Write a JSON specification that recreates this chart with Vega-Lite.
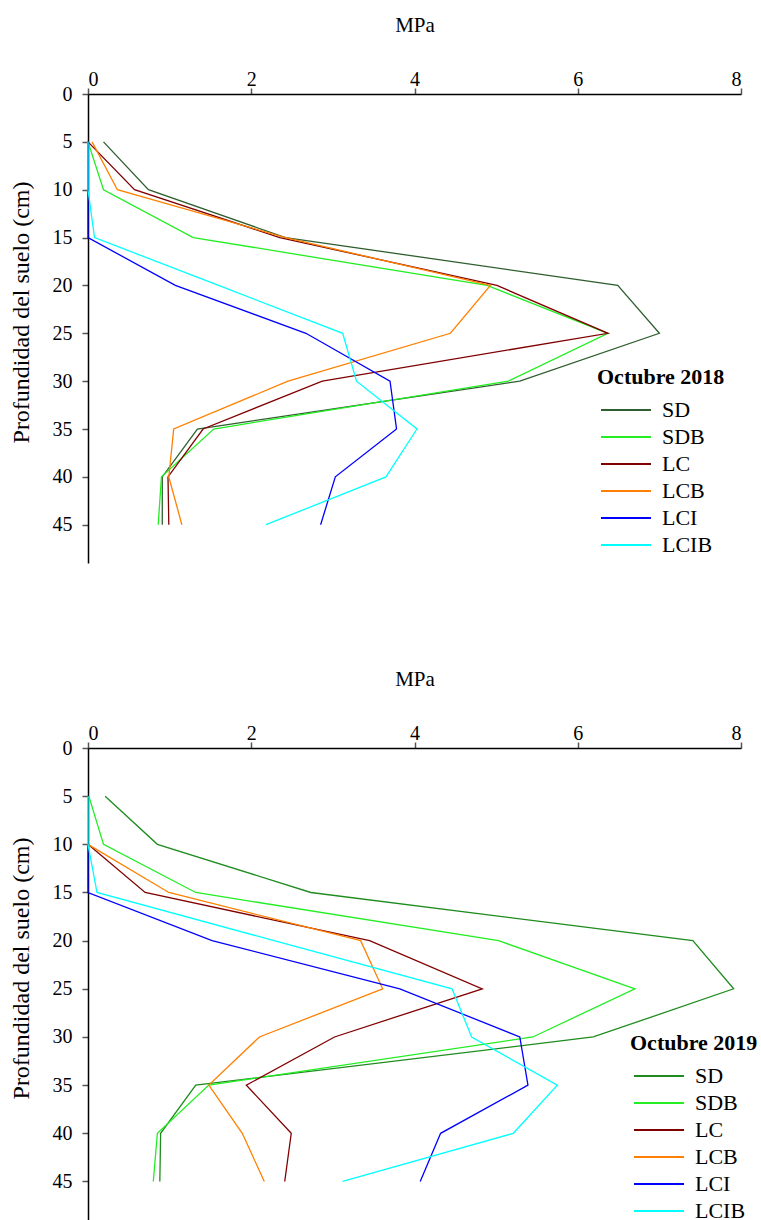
{
  "$schema": "https://vega.github.io/schema/vega-lite/v6.json",
  "padding": {"left": 9, "top": 14, "right": 5, "bottom": 0},
  "background": "white",
  "spacing": 105,
  "config": {
    "font": "Liberation Serif",
    "view": {"stroke": null},
    "legend": {"labelFont": "Liberation Serif", "titleFont": "Liberation Serif", "labelFontSize": 22, "titleFontSize": 22, "titleFontWeight": "bold", "labelColor": "#000", "titleColor": "#000"}
  },
  "data": {"values": [
    {"p": "2018", "s": "SD", "d": 5, "v": 0.19}, {"p": "2018", "s": "SD", "d": 10, "v": 0.74}, {"p": "2018", "s": "SD", "d": 15, "v": 2.42}, {"p": "2018", "s": "SD", "d": 20, "v": 6.49}, {"p": "2018", "s": "SD", "d": 25, "v": 7.0}, {"p": "2018", "s": "SD", "d": 30, "v": 5.29}, {"p": "2018", "s": "SD", "d": 35, "v": 1.34}, {"p": "2018", "s": "SD", "d": 40, "v": 0.91}, {"p": "2018", "s": "SD", "d": 45, "v": 0.91},
    {"p": "2018", "s": "SDB", "d": 5, "v": 0.0}, {"p": "2018", "s": "SDB", "d": 10, "v": 0.19}, {"p": "2018", "s": "SDB", "d": 15, "v": 1.29}, {"p": "2018", "s": "SDB", "d": 20, "v": 4.89}, {"p": "2018", "s": "SDB", "d": 25, "v": 6.37}, {"p": "2018", "s": "SDB", "d": 30, "v": 5.15}, {"p": "2018", "s": "SDB", "d": 35, "v": 1.54}, {"p": "2018", "s": "SDB", "d": 40, "v": 0.9}, {"p": "2018", "s": "SDB", "d": 45, "v": 0.86},
    {"p": "2018", "s": "LC", "d": 5, "v": 0.0}, {"p": "2018", "s": "LC", "d": 10, "v": 0.57}, {"p": "2018", "s": "LC", "d": 15, "v": 2.35}, {"p": "2018", "s": "LC", "d": 20, "v": 5.01}, {"p": "2018", "s": "LC", "d": 25, "v": 6.37}, {"p": "2018", "s": "LC", "d": 30, "v": 2.87}, {"p": "2018", "s": "LC", "d": 35, "v": 1.41}, {"p": "2018", "s": "LC", "d": 40, "v": 0.98}, {"p": "2018", "s": "LC", "d": 45, "v": 0.99},
    {"p": "2018", "s": "LCB", "d": 5, "v": 0.05}, {"p": "2018", "s": "LCB", "d": 10, "v": 0.36}, {"p": "2018", "s": "LCB", "d": 15, "v": 2.42}, {"p": "2018", "s": "LCB", "d": 20, "v": 4.93}, {"p": "2018", "s": "LCB", "d": 25, "v": 4.44}, {"p": "2018", "s": "LCB", "d": 30, "v": 2.45}, {"p": "2018", "s": "LCB", "d": 35, "v": 1.05}, {"p": "2018", "s": "LCB", "d": 40, "v": 0.99}, {"p": "2018", "s": "LCB", "d": 45, "v": 1.15},
    {"p": "2018", "s": "LCI", "d": 5, "v": 0.0}, {"p": "2018", "s": "LCI", "d": 10, "v": 0.0}, {"p": "2018", "s": "LCI", "d": 15, "v": 0.0}, {"p": "2018", "s": "LCI", "d": 20, "v": 1.07}, {"p": "2018", "s": "LCI", "d": 25, "v": 2.67}, {"p": "2018", "s": "LCI", "d": 30, "v": 3.7}, {"p": "2018", "s": "LCI", "d": 35, "v": 3.78}, {"p": "2018", "s": "LCI", "d": 40, "v": 3.03}, {"p": "2018", "s": "LCI", "d": 45, "v": 2.85},
    {"p": "2018", "s": "LCIB", "d": 5, "v": 0.0}, {"p": "2018", "s": "LCIB", "d": 10, "v": 0.0}, {"p": "2018", "s": "LCIB", "d": 15, "v": 0.08}, {"p": "2018", "s": "LCIB", "d": 20, "v": 1.6}, {"p": "2018", "s": "LCIB", "d": 25, "v": 3.12}, {"p": "2018", "s": "LCIB", "d": 30, "v": 3.29}, {"p": "2018", "s": "LCIB", "d": 35, "v": 4.03}, {"p": "2018", "s": "LCIB", "d": 40, "v": 3.65}, {"p": "2018", "s": "LCIB", "d": 45, "v": 2.18},
    {"p": "2019", "s": "SD", "d": 5, "v": 0.21}, {"p": "2019", "s": "SD", "d": 10, "v": 0.85}, {"p": "2019", "s": "SD", "d": 15, "v": 2.73}, {"p": "2019", "s": "SD", "d": 20, "v": 7.41}, {"p": "2019", "s": "SD", "d": 25, "v": 7.91}, {"p": "2019", "s": "SD", "d": 30, "v": 6.19}, {"p": "2019", "s": "SD", "d": 35, "v": 1.32}, {"p": "2019", "s": "SD", "d": 40, "v": 0.89}, {"p": "2019", "s": "SD", "d": 45, "v": 0.88},
    {"p": "2019", "s": "SDB", "d": 5, "v": 0.01}, {"p": "2019", "s": "SDB", "d": 10, "v": 0.19}, {"p": "2019", "s": "SDB", "d": 15, "v": 1.32}, {"p": "2019", "s": "SDB", "d": 20, "v": 5.03}, {"p": "2019", "s": "SDB", "d": 25, "v": 6.7}, {"p": "2019", "s": "SDB", "d": 30, "v": 5.45}, {"p": "2019", "s": "SDB", "d": 35, "v": 1.48}, {"p": "2019", "s": "SDB", "d": 40, "v": 0.85}, {"p": "2019", "s": "SDB", "d": 45, "v": 0.8},
    {"p": "2019", "s": "LC", "d": 10, "v": 0.0}, {"p": "2019", "s": "LC", "d": 15, "v": 0.7}, {"p": "2019", "s": "LC", "d": 20, "v": 3.45}, {"p": "2019", "s": "LC", "d": 25, "v": 4.83}, {"p": "2019", "s": "LC", "d": 30, "v": 3.02}, {"p": "2019", "s": "LC", "d": 35, "v": 1.94}, {"p": "2019", "s": "LC", "d": 40, "v": 2.49}, {"p": "2019", "s": "LC", "d": 45, "v": 2.41},
    {"p": "2019", "s": "LCB", "d": 10, "v": 0.0}, {"p": "2019", "s": "LCB", "d": 15, "v": 0.99}, {"p": "2019", "s": "LCB", "d": 20, "v": 3.34}, {"p": "2019", "s": "LCB", "d": 25, "v": 3.61}, {"p": "2019", "s": "LCB", "d": 30, "v": 2.1}, {"p": "2019", "s": "LCB", "d": 35, "v": 1.48}, {"p": "2019", "s": "LCB", "d": 40, "v": 1.89}, {"p": "2019", "s": "LCB", "d": 45, "v": 2.16},
    {"p": "2019", "s": "LCI", "d": 10, "v": 0.0}, {"p": "2019", "s": "LCI", "d": 15, "v": 0.0}, {"p": "2019", "s": "LCI", "d": 20, "v": 1.52}, {"p": "2019", "s": "LCI", "d": 25, "v": 3.82}, {"p": "2019", "s": "LCI", "d": 30, "v": 5.29}, {"p": "2019", "s": "LCI", "d": 35, "v": 5.39}, {"p": "2019", "s": "LCI", "d": 40, "v": 4.32}, {"p": "2019", "s": "LCI", "d": 45, "v": 4.07},
    {"p": "2019", "s": "LCIB", "d": 5, "v": 0.0}, {"p": "2019", "s": "LCIB", "d": 10, "v": 0.0}, {"p": "2019", "s": "LCIB", "d": 15, "v": 0.11}, {"p": "2019", "s": "LCIB", "d": 20, "v": 2.28}, {"p": "2019", "s": "LCIB", "d": 25, "v": 4.46}, {"p": "2019", "s": "LCIB", "d": 30, "v": 4.7}, {"p": "2019", "s": "LCIB", "d": 35, "v": 5.75}, {"p": "2019", "s": "LCIB", "d": 40, "v": 5.21}, {"p": "2019", "s": "LCIB", "d": 45, "v": 3.12}
  ]},
  "resolve": {"scale": {"color": "independent", "x": "independent", "y": "independent"}, "legend": {"color": "independent"}},
  "vconcat": [
    {
      "width": 653,
      "height": 469,
      "transform": [{"filter": "datum.p === '2018'"}],
      "mark": {"type": "line", "strokeWidth": 1.3, "clip": false},
      "encoding": {
        "x": {"field": "v", "type": "quantitative", "scale": {"domain": [0, 8], "nice": false}, "axis": {"orient": "top", "title": "MPa", "values": [0, 2, 4, 6, 8], "grid": false, "domainColor": "#000", "domainWidth": 1.5, "tickColor": "#555", "tickWidth": 1.5, "tickSize": 6, "labelFont": "Liberation Serif", "labelFontSize": 20, "labelColor": "#000", "labelPadding": -1, "titleFont": "Liberation Serif", "titleFontSize": 21, "titleFontWeight": "normal", "titleColor": "#000", "titlePadding": 34}},
        "y": {"field": "d", "type": "quantitative", "scale": {"domain": [0, 49], "nice": false, "reverse": true}, "axis": {"title": "Profundidad del suelo (cm)", "values": [0, 5, 10, 15, 20, 25, 30, 35, 40, 45], "grid": false, "domainColor": "#000", "domainWidth": 1.5, "tickColor": "#555", "tickWidth": 1.5, "tickSize": 6, "labelFont": "Liberation Serif", "labelFontSize": 20, "labelColor": "#000", "labelPadding": 10, "titleFont": "Liberation Serif", "titleFontSize": 24, "titleFontWeight": "normal", "titleColor": "#000", "titleX": -67, "titleY": 218, "titleAngle": -90, "titleAlign": "center", "titleBaseline": "middle"}},
        "order": {"field": "d", "type": "quantitative"},
        "color": {"field": "s", "type": "nominal", "scale": {"domain": ["SD", "SDB", "LC", "LCB", "LCI", "LCIB"], "range": ["#2F5F2F", "#22EE22", "#800000", "#FF8000", "#0000FF", "#00FFFF"]},
          "legend": {"title": "Octubre 2018", "orient": "none", "legendX": 509, "legendY": 273, "symbolType": "M-0.7,0H4.3", "symbolSize": 400, "symbolStrokeWidth": 2, "labelOffset": 43, "rowPadding": 5, "titlePadding": 10}}
      }
    },
    {
      "width": 653,
      "height": 472,
      "transform": [{"filter": "datum.p === '2019'"}],
      "mark": {"type": "line", "strokeWidth": 1.3, "clip": false},
      "encoding": {
        "x": {"field": "v", "type": "quantitative", "scale": {"domain": [0, 8], "nice": false}, "axis": {"orient": "top", "title": "MPa", "values": [0, 2, 4, 6, 8], "grid": false, "domainColor": "#000", "domainWidth": 1.5, "tickColor": "#555", "tickWidth": 1.5, "tickSize": 6, "labelFont": "Liberation Serif", "labelFontSize": 20, "labelColor": "#000", "labelPadding": -1, "titleFont": "Liberation Serif", "titleFontSize": 21, "titleFontWeight": "normal", "titleColor": "#000", "titlePadding": 34}},
        "y": {"field": "d", "type": "quantitative", "scale": {"domain": [0, 49], "nice": false, "reverse": true}, "axis": {"title": "Profundidad del suelo (cm)", "values": [0, 5, 10, 15, 20, 25, 30, 35, 40, 45], "grid": false, "domainColor": "#000", "domainWidth": 1.5, "tickColor": "#555", "tickWidth": 1.5, "tickSize": 6, "labelFont": "Liberation Serif", "labelFontSize": 20, "labelColor": "#000", "labelPadding": 10, "titleFont": "Liberation Serif", "titleFontSize": 24, "titleFontWeight": "normal", "titleColor": "#000", "titleX": -67, "titleY": 220, "titleAngle": -90, "titleAlign": "center", "titleBaseline": "middle"}},
        "order": {"field": "d", "type": "quantitative"},
        "color": {"field": "s", "type": "nominal", "scale": {"domain": ["SD", "SDB", "LC", "LCB", "LCI", "LCIB"], "range": ["#1E8C1E", "#22EE22", "#800000", "#FF8000", "#0000FF", "#00FFFF"]},
          "legend": {"title": "Octubre 2019", "orient": "none", "legendX": 542, "legendY": 285, "symbolType": "M-0.7,0H4.3", "symbolSize": 400, "symbolStrokeWidth": 2, "labelOffset": 43, "rowPadding": 5, "titlePadding": 10}}
      }
    }
  ]
}
